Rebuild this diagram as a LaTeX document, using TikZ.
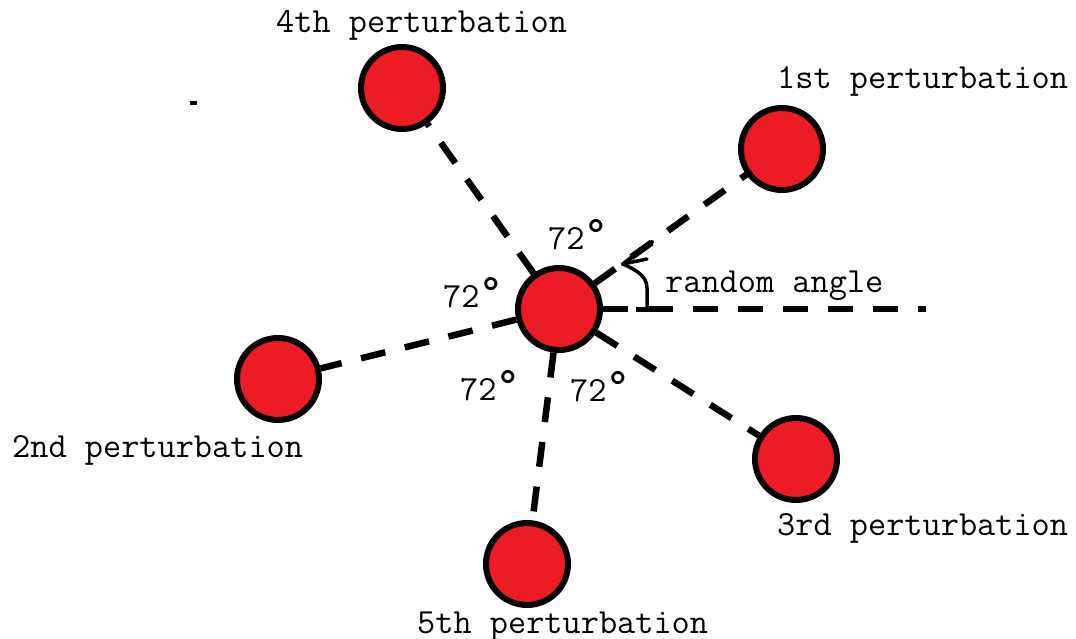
\documentclass[tikz,border=0pt]{standalone}
\usetikzlibrary{arrows.meta}
\definecolor{ballred}{RGB}{237,28,36}
\newcommand\degmark{\raisebox{0.05em}{\scalebox{1.3}{°}}}
\tikzset{
  ball/.style={circle, draw=black, fill=ballred, line width=6pt, minimum size=82pt, inner sep=0pt},
  spoke/.style={line width=6.5pt, dash pattern=on 25pt off 20pt},
  lbl/.style={font=\fontsize{35.3}{40}\selectfont\ttfamily, anchor=base west, inner sep=0pt, text=black},
  anglearrow/.style={line width=3.5pt, line cap=round, line join=round},
}
\begin{document}
\begin{tikzpicture}[x=1pt,y=-1pt]
\path[use as bounding box] (0,0) rectangle (1076,639);
% nodes
\node[ball] (c) at (559,309) {};
\node[ball] (p1) at (782,149) {};
\node[ball] (p2) at (278,379) {};
\node[ball] (p3) at (796,459) {};
\node[ball] (p4) at (402,88) {};
\node[ball] (p5) at (527,564) {};
\coordinate (hend) at (926,309);
\coordinate (a0) at (647,309);
\coordinate (a1) at (623,264);
\coordinate (b1) at (652,242);
\coordinate (b2) at (647,259);
% spokes
\draw[spoke] (c) -- (p1);
\draw[spoke] (c) -- (p2);
\draw[spoke] (c) -- (p3);
\draw[spoke] (c) -- (p4);
\draw[spoke] (c) -- (p5);
\draw[spoke] (c) -- (hend);
% random angle arrow
\draw[anglearrow] (a0) -- (647,288) .. controls (647,276) and (636,270) .. (a1);
\draw[anglearrow, line width=4pt] (a1) -- (b1);
\draw[anglearrow] (a1) -- (b2);
\draw[line width=5pt] (636,309) -- (659,309);
% stray mark
\fill (190,101) rectangle (197,105);
% labels
\node[lbl] (l1) at (777,89) {1st perturbation};
\node[lbl] (l2) at (12,457) {2nd perturbation};
\node[lbl] (l3) at (777,535) {3rd perturbation};
\node[lbl] (l4) at (276,33) {4th perturbation};
\node[lbl] (l5) at (417,633) {5th perturbation};
\node[lbl] (lr) at (665,292) {random angle};
\node[lbl] (d1) at (548,249) {72\degmark};
\node[lbl] (d2) at (443,307) {72\degmark};
\node[lbl] (d3) at (460,400) {72\degmark};
\node[lbl] (d4) at (570,401) {72\degmark};
\end{tikzpicture}
\end{document}
